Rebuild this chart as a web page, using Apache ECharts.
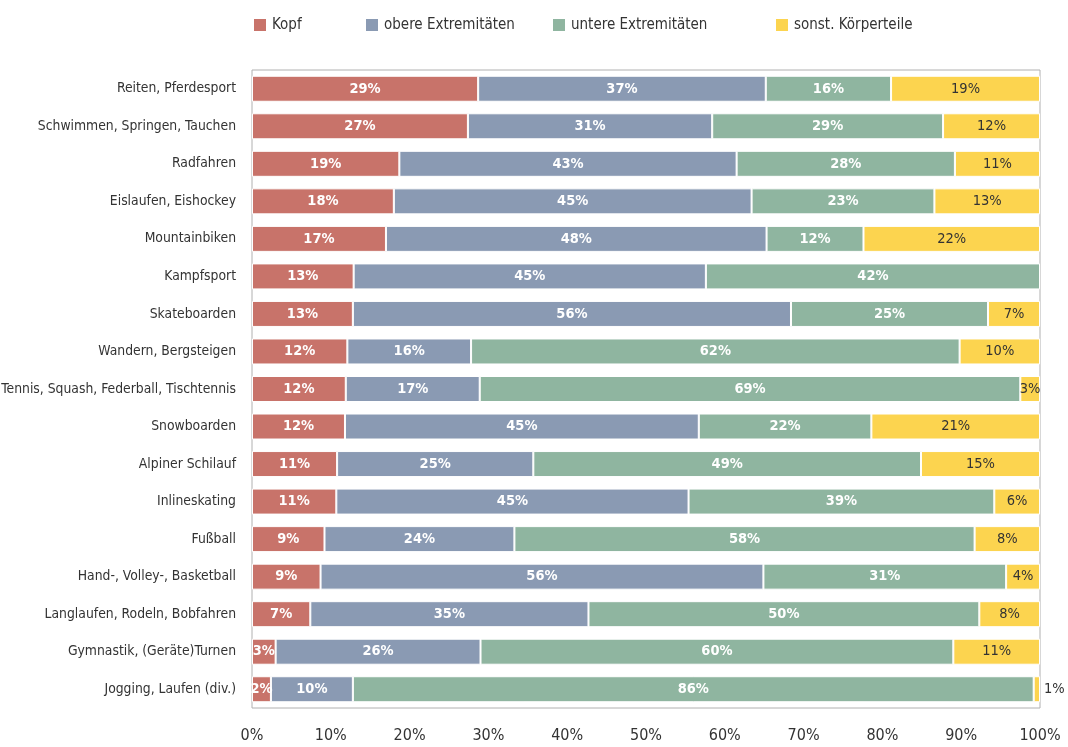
<!DOCTYPE html>
<html><head><meta charset="utf-8">
<script src="https://cdn.jsdelivr.net/npm/echarts@6/dist/echarts.min.js"></script>
<style>html,body{margin:0;padding:0;background:#fff}#c{width:1068px;height:747px}</style>
</head><body><div id="c"></div>
<script>
const categories = ["Reiten, Pferdesport","Schwimmen, Springen, Tauchen","Radfahren","Eislaufen, Eishockey","Mountainbiken","Kampfsport","Skateboarden","Wandern, Bergsteigen","Tennis, Squash, Federball, Tischtennis","Snowboarden","Alpiner Schilauf","Inlineskating","Fußball","Hand-, Volley-, Basketball","Langlaufen, Rodeln, Bobfahren","Gymnastik, (Geräte)Turnen","Jogging, Laufen (div.)"];
const seriesNames = ["Kopf","obere Extremitäten","untere Extremitäten","sonst. Körperteile"];
const kopf =  [28.7,27.4,18.7,18.0,17.0,12.9,12.8,12.1,11.9,11.8,10.8,10.7,9.2,8.7,7.4,3.0,2.4];
const obere = [36.5,31.0,42.8,45.4,48.3,44.7,55.6,15.7,17.0,44.9,24.9,44.7,24.1,56.2,35.3,26.0,10.4];
const untere =[15.9,29.3,27.7,23.2,12.3,42.4,25.0,62.0,68.6,21.9,49.2,38.8,58.4,30.8,49.6,60.0,86.4];
const sonst = [18.9,12.3,10.8,13.4,22.4,null,6.6,10.2,2.5,21.4,15.1,5.8,8.3,4.3,7.7,11.0,0.8];
const xTicks = [0,10,20,30,40,50,60,70,80,90,100];

const FONT = "'DejaVu Sans Condensed','Liberation Sans Narrow',sans-serif";
const colors = ['#c8736a','#8a9ab3','#8fb5a0','#fcd44f'];
const chart = echarts.init(document.getElementById('c'));
const fmt = p => (p.value == null ? '' : Math.round(p.value) + '%');
function mk(i, data) {
  const dark = i === 3;
  return {
    name: seriesNames[i], type: 'bar', stack: 'all', barWidth: 26,
    itemStyle: { color: colors[i], borderColor: '#fff', borderWidth: 1 },
    label: { show: true, position: 'inside', formatter: fmt, fontFamily: FONT, fontSize: 14.5,
      color: dark ? '#333' : '#fff', fontWeight: dark ? 'normal' : 'bold' },
    data: data.map((v, k) => (dark && v != null && v < 1.5) ?
      { value: v, label: { position: 'right', distance: 4 } } : v),
    animation: false
  };
}
const legendLefts = [247, 359, 546, 769];
chart.setOption({
  animation: false,
  textStyle: { fontFamily: FONT },
  legend: seriesNames.map((n, i) => ({
    data: [n], left: legendLefts[i], top: 12, itemWidth: 14, itemHeight: 14, icon: 'rect', itemGap: 8,
    textStyle: { fontFamily: FONT, fontSize: 15, color: '#333' }, selectedMode: false
  })),
  grid: { left: 252, right: 28, top: 70, bottom: 39, show: true, borderColor: '#b0b0b0', borderWidth: 1,
    containLabel: false, outerBoundsMode: 'none' },
  xAxis: { type: 'value', min: 0, max: 100, interval: 10,
    axisLine: { show: false }, axisTick: { show: false }, splitLine: { show: false },
    axisLabel: { formatter: v => xTicks.includes(v) ? v + '%' : '', fontFamily: FONT, fontSize: 16, color: '#333', margin: 20 } },
  yAxis: { type: 'category', data: categories, inverse: true,
    axisLine: { show: false }, axisTick: { show: false },
    axisLabel: { fontFamily: FONT, fontSize: 13.8, color: '#333', margin: 16 } },
  series: [mk(0, kopf), mk(1, obere), mk(2, untere), mk(3, sonst)]
});
</script></body></html>
